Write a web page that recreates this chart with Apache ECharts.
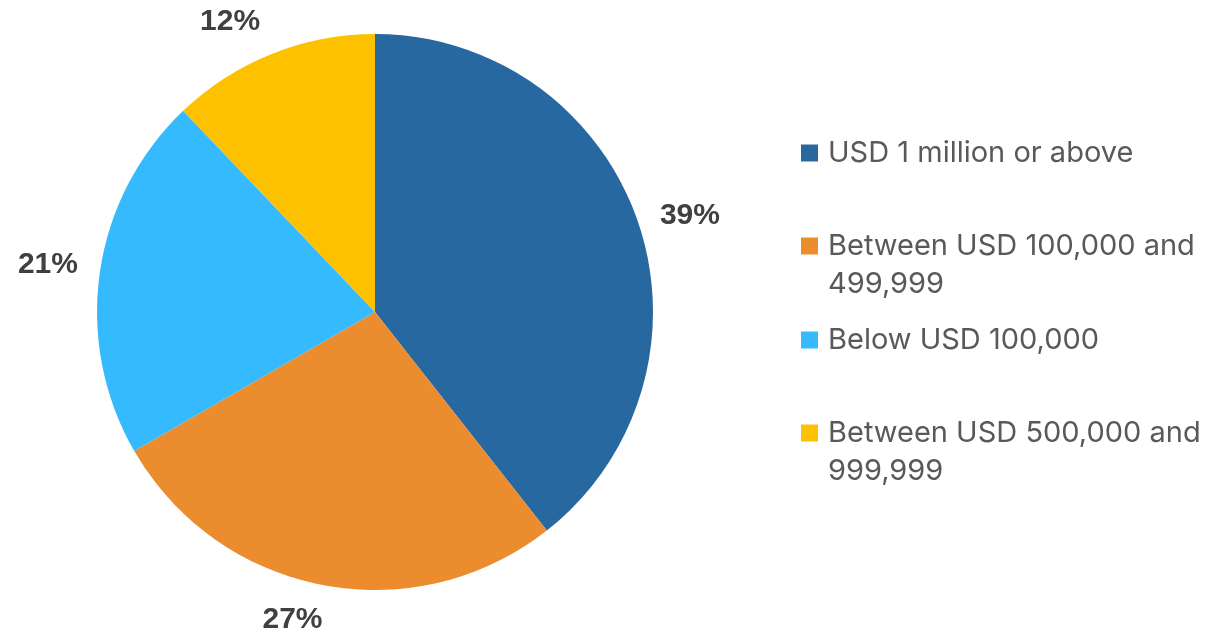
<!DOCTYPE html>
<html lang="en">
<head>
    <meta charset="UTF-8">
    <title>Pie</title>
    <script src="https://cdn.jsdelivr.net/npm/echarts@6/dist/echarts.min.js"></script>
    <style>
        html, body { margin: 0; padding: 0; background: #fff; }
    </style>
</head>
<body>
<div id="main" style="width: 1218px;height:630px;"></div>
<script>
    // 数据
    var names = ['USD 1 million or above', 'Between USD 100,000 and 499,999', 'Below USD 100,000', 'Between USD 500,000 and 999,999'];
    var legendText = ['USD 1 million or above', 'Between USD 100,000 and\n499,999', 'Below USD 100,000', 'Between USD 500,000 and\n999,999'];
    var values = [39, 27, 21, 12];
    var colors = ['#2868a0', '#eb8c2e', '#35bbfd', '#fec100'];
    // label nudges (dx, dy)
    var labelShift = [[3, 0], [8, 20], [-2, -6], [-1, -18]];
    var legendTops = [134, 189, 321, 376];

    var myChart = echarts.init(document.getElementById('main'));

    var data = [];
    for (var i = 0; i < names.length; i++) {
        data.push({name: names[i], value: values[i], itemStyle: {color: colors[i]}});
    }

    var legends = [];
    for (var j = 0; j < names.length; j++) {
        var txt = legendText[j];
        // 两行的图例：前面加一个空行，让色块对齐第一行
        if (txt.indexOf('\n') >= 0) txt = ' \n' + txt;
        legends.push({
            data: [names[j]],
            left: 801,
            top: legendTops[j],
            padding: 0,
            icon: 'rect',
            itemWidth: 17,
            itemHeight: 17,
            selectedMode: false,
            formatter: (function (t) { return function () { return t; }; })(txt),
            textStyle: {
                fontFamily: 'Inter',
                fontSize: 29,
                lineHeight: 38,
                color: '#595959',
                padding: [0, 0, 0, 5]
            }
        });
    }

    var option = {
        backgroundColor: '#fff',
        animation: false,
        legend: legends,
        series: [{
            type: 'pie',
            center: [375, 312],
            radius: 278,
            startAngle: 90,
            clockwise: true,
            avoidLabelOverlap: false,
            data: data,
            itemStyle: {borderWidth: 0},
            label: {
                show: true,
                position: 'outside',
                formatter: '{c}%',
                fontFamily: 'Liberation Sans',
                fontWeight: 'bold',
                fontSize: 30,
                color: '#404040',
                distanceToLabelLine: 5
            },
            labelLine: {show: false, length: 15, length2: 0},
            labelLayout: function (params) {
                var s = labelShift[params.dataIndex];
                return {dx: s[0], dy: s[1]};
            },
            emphasis: {disabled: true}
        }]
    };
    myChart.setOption(option);
</script>
</body>
</html>
